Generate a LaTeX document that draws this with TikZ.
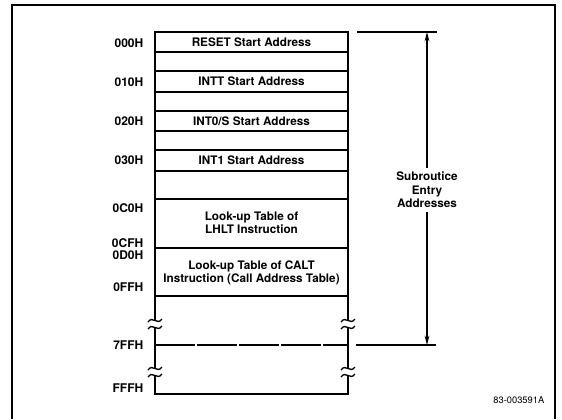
\documentclass[tikz,border=0pt]{standalone}
\usepackage{fontspec}
\setmainfont{TeX Gyre Heros}
\usetikzlibrary{arrows.meta,positioning}

\tikzset{brk/.pic={
  \fill[white] (-3,-3) rectangle (3,3);
  \draw[line width=1pt] (-7,-2) .. controls (-2,-9) and (2,2) .. (7,-5);
  \draw[line width=1pt] (-7,5) .. controls (-2,-2) and (2,9) .. (7,2);
}}

\begin{document}
\begin{tikzpicture}[x=0.75pt,y=-0.75pt,>={Stealth[length=7pt,width=3.5pt]},
  lbl/.style={anchor=east,font=\bfseries\fontsize{9}{10}\selectfont},
  cell/.style={font=\bfseries\fontsize{8.8}{10}\selectfont,align=center,inner sep=1pt}]
\useasboundingbox (0,0) rectangle (562,419);

% frame
\draw[line width=0.8pt] (12,419) -- (12,5) -- (555,5) -- (555,419);

\path
 (155,32) coordinate (tl)
 (348,32) coordinate (tr)
 (155,394) coordinate (bl)
 (348,394) coordinate (br)
 ;

% memory block
\foreach \y in {52,71,92,111,131,150,171,199,248,296}
  \draw[line width=0.9pt] (155,\y) -- (348,\y);
\draw[line width=0.9pt, dash pattern=on 30pt off 1.5pt] (155,345) -- (348,345);
\draw[line width=1.7pt] (tr) -- (tl) -- (bl) -- (br) -- cycle;
\foreach \x in {155,348}
  \foreach \y in {324,372}
    \pic at (\x,\y) {brk};

\node[cell] (reset) at (251.5,42) {RESET Start Address};
\node[cell] (intt) at (251.5,81.5) {INTT Start Address};
\node[cell] (ints) at (251.5,121) {INT0/S Start Address};
\node[cell] (intone) at (251.5,160.5) {INT1 Start Address};
\node[cell] (lhlt) at (251.5,223) {Look-up Table of\\LHLT Instruction};
\node[cell] (calt) at (251.5,273) {Look-up Table of CALT\\Instruction (Call Address Table)};

% addresses
\node[lbl] (a000) at (148,43) {000H};
\node[lbl] (a010) at (148,82) {010H};
\node[lbl] (a020) at (148,121) {020H};
\node[lbl] (a030) at (148,160) {030H};
\node[lbl] (a0c0) at (148,208) {0C0H};
\node[lbl] (a0cf) at (148,243) {0CFH};
\node[lbl] (a0d0) at (148,255) {0D0H};
\node[lbl] (a0ff) at (148,287) {0FFH};
\node[lbl] (a7ff) at (148,345) {7FFH};
\node[lbl] (afff) at (148,388) {FFFH};

% entry range
\path
 (357,32) coordinate (topl)
 (437,32) coordinate (topr)
 (427,32) coordinate (topm)
 (356,345) coordinate (botl)
 (436,345) coordinate (botr)
 (427,345) coordinate (botm)
 ;
\draw[line width=0.9pt] (topl) -- (topr);
\draw[line width=0.9pt] (botl) -- (botr);
\node[cell,inner sep=3pt] (entry) at (427,190) {Subroutice\\Entry\\Addresses};
\draw[->,line width=0.8pt] (entry) -- (topm);
\draw[->,line width=0.8pt] (entry) -- (botm);

\node[anchor=east,font=\fontsize{7}{8}\selectfont] (fig) at (549,400) {83-003591A};
\end{tikzpicture}
\end{document}
